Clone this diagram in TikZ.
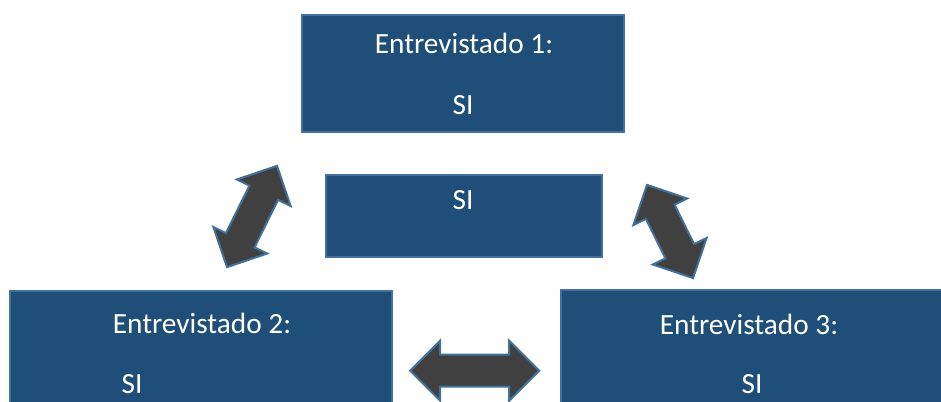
\documentclass[tikz,border=0pt]{standalone}
\usepackage{fontspec}
\setmainfont{Carlito}
\usetikzlibrary{shapes.arrows}
\definecolor{boxfill}{RGB}{31,78,121}
\definecolor{boxedge}{RGB}{65,113,156}
\definecolor{arrfill}{RGB}{64,64,64}
\tikzset{
  panel/.style={draw=boxedge, fill=boxfill, line width=2pt, rectangle, inner sep=0pt},
  txt/.style={text=white, anchor=base, inner sep=0pt, font=\fontsize{29.3}{35}\selectfont},
  dblarrow/.style={draw=boxedge, fill=arrfill, line width=2pt, shape=double arrow,
    double arrow head extend=14pt, double arrow tip angle=90, inner xsep=0pt, inner ysep=15pt,
    minimum width=58pt}
}
\begin{document}
\begin{tikzpicture}[x=1pt,y=-1pt]
\useasboundingbox (0,0) rectangle (941,401);
\clip (0,0) rectangle (941,401);
% boxes
\node[panel, minimum width=322pt, minimum height=117pt] (b1) at (463,73.5) {};
\node[panel, minimum width=276pt, minimum height=82pt] (bc) at (464,216) {};
\node[panel, minimum width=382pt, minimum height=130pt] (b2) at (201,356) {};
\node[panel, minimum width=400pt, minimum height=130pt] (b3) at (761,355) {};
% texts
\node[txt] (t1a) at (464,54) {Entrevistado 1:};
\node[txt] (t1b) at (463,114) {SI};
\node[txt] (tc) at (463,209) {SI};
\node[txt] (t2a) at (202,333) {Entrevistado 2:};
\node[txt] (t2b) at (132,393) {SI};
\node[txt] (t3a) at (749,334) {Entrevistado 3:};
\node[txt] (t3b) at (752,393) {SI};
% arrows
\node[dblarrow, minimum height=113pt, rotate=63.7] (aL) at (252,216.5) {};
\node[dblarrow, minimum height=104pt, rotate=-63.7] (aR) at (670,231.5) {};
\node[dblarrow, minimum height=129pt] (aB) at (474.7,370.7) {};
\end{tikzpicture}
\end{document}
